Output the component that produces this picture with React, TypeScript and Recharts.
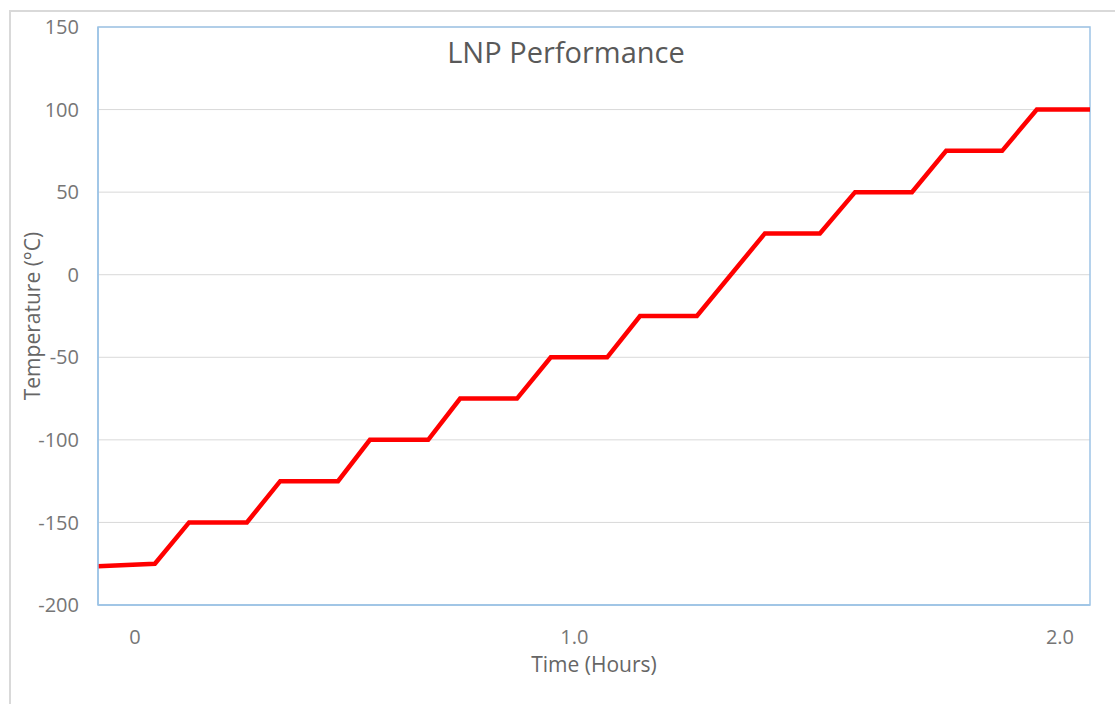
import React from "react";
import { LineChart, Line, XAxis, YAxis, CartesianGrid, ReferenceArea } from "recharts";

// Time in hours, temperature in °C
const TIME_HOURS = [
  -0.08, 0.043, 0.117, 0.242, 0.314, 0.439, 0.508, 0.634, 0.703, 0.826, 0.899,
  1.021, 1.092, 1.215, 1.362, 1.481, 1.557, 1.68, 1.754, 1.875, 1.95, 2.065,
];
const TEMPERATURE = [
  -176.5, -175, -150, -150, -125, -125, -100, -100, -75, -75, -50,
  -50, -25, -25, 25, 25, 50, 50, 75, 75, 100, 100,
];
const X_TICK_POS = [0, 0.95, 2.0];
const X_TICK_LABELS = ["0", "1.0", "2.0"];
const Y_TICKS = [-200, -150, -100, -50, 0, 50, 100, 150];

const data = TIME_HOURS.map((t, i) => ({ t, temp: TEMPERATURE[i] }));

const FONT = "'Open Sans', 'Liberation Sans', sans-serif";
const TITLE_GRAY = "#595959";
const TICK_GRAY = "#767676";
const LABEL_GRAY = "#666666";
const BLUE = "#9DC3E6";

export default function App() {
  return (
    <div style={{ position: "absolute", left: 0, top: 0, width: 1115, height: 704, background: "#fff", overflow: "hidden", fontFamily: FONT }}>
      <div style={{ position: "absolute", left: 9, top: 10, width: 1106, height: 694, borderTop: "2px solid #D9D9D9", borderLeft: "2px solid #D9D9D9", boxSizing: "border-box" }} />
      <div style={{ position: "absolute", left: 316, width: 500, top: 32, textAlign: "center", fontSize: 29, color: TITLE_GRAY, lineHeight: "40px", whiteSpace: "nowrap" }}>
        LNP Performance
      </div>
      <LineChart
        width={1115}
        height={704}
        data={data}
        margin={{ top: 27, right: 25, bottom: 0, left: 0 }}
        style={{ position: "absolute", left: 0, top: 0 }}
      >
        <CartesianGrid vertical={false} stroke="#D9D9D9" strokeWidth={1} />
        <XAxis
          dataKey="t"
          type="number"
          domain={[-0.08, 2.065]}
          ticks={X_TICK_POS}
          tickFormatter={(v: number) => X_TICK_LABELS[X_TICK_POS.indexOf(v)] ?? ""}
          height={99}
          tickLine={false}
          axisLine={{ stroke: BLUE, strokeWidth: 1.5 }}
          tickMargin={19}
          tick={{ fill: TICK_GRAY, fontSize: 20, fontFamily: FONT }}
          interval={0}
          allowDataOverflow
          label={{ value: "Time (Hours)", position: "insideBottom", offset: 32, fill: LABEL_GRAY, fontSize: 21, fontFamily: FONT }}
        />
        <YAxis
          type="number"
          domain={[-200, 150]}
          ticks={Y_TICKS}
          width={98}
          tickLine={false}
          axisLine={{ stroke: BLUE, strokeWidth: 1.5 }}
          tickMargin={13}
          interval={0}
          tick={{ fill: TICK_GRAY, fontSize: 20, fontFamily: FONT }}
          label={{ value: "Temperature (°C)", angle: -90, position: "insideLeft", offset: 33, fill: LABEL_GRAY, fontSize: 21, fontFamily: FONT, style: { textAnchor: "middle" } }}
        />
        <ReferenceArea x1={-0.08} x2={2.065} y1={-200} y2={150} fill="none" stroke={BLUE} strokeWidth={1.5} ifOverflow="visible" />
        <Line
          type="linear"
          dataKey="temp"
          stroke="#FF0000"
          strokeWidth={4.5}
          dot={false}
          isAnimationActive={false}
        />
      </LineChart>
    </div>
  );
}
